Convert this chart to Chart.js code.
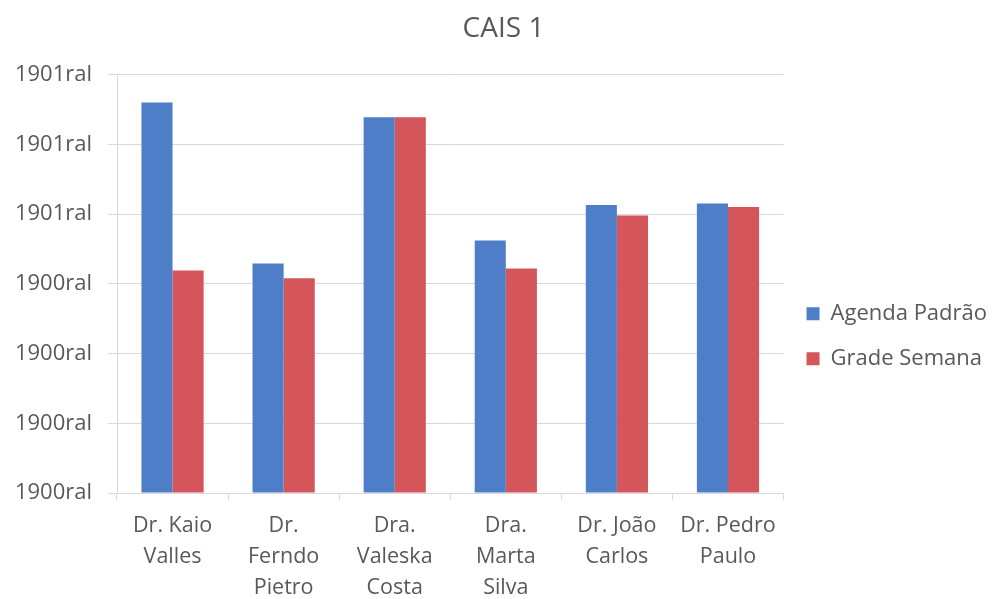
<!DOCTYPE html>
<html>
<head>
<meta charset="utf-8">
<script src="https://cdn.jsdelivr.net/npm/chart.js@4.4.1/dist/chart.umd.min.js"></script>
<style>
    html, body { margin: 0; padding: 0; background: #ffffff; }
    #wrap { width: 997px; height: 599px; }
</style>
</head>
<body>
<div id="wrap"><canvas id="caisChart"></canvas></div>
<script>
// Doctors on the x axis (one line per array entry)
const doctors = [
    ['Dr. Kaio', 'Valles'],
    ['Dr.', 'Ferndo', 'Pietro'],
    ['Dra.', 'Valeska', 'Costa'],
    ['Dra.', 'Marta', 'Silva'],
    ['Dr. João', 'Carlos'],
    ['Dr. Pedro', 'Paulo']
];

const agendaPadrao = [5.60, 3.29, 5.39, 3.62, 4.13, 4.15];
const gradeSemana = [3.19, 3.08, 5.39, 3.22, 3.98, 4.10];

// y tick texts, bottom to top
const yTickLabels = ['1900ral', '1900ral', '1900ral', '1900ral', '1901ral', '1901ral', '1901ral'];

const textColor = '#595959';
const gridColor = '#d9d9d9';
const fontFamily = '"Open Sans", sans-serif';

const ctx = document.getElementById('caisChart').getContext('2d');
new Chart(ctx, {
    type: 'bar',
    data: {
        labels: doctors,
        datasets: [{
            label: 'Agenda Padrão',
            data: agendaPadrao,
            backgroundColor: '#4f7ec9'
        }, {
            label: 'Grade Semana',
            data: gradeSemana,
            backgroundColor: '#d4555a'
        }]
    },
    options: {
        responsive: true,
        maintainAspectRatio: false,
        animation: false,
        layout: {
            padding: { left: 10, right: 0, top: 0, bottom: 0 }
        },
        datasets: {
            bar: {
                barPercentage: 1.0,
                categoryPercentage: 0.56
            }
        },
        plugins: {
            title: {
                display: true,
                text: 'CAIS 1',
                color: textColor,
                font: { family: fontFamily, size: 28, weight: 'normal' },
                padding: { top: 12, bottom: 29 }
            },
            legend: {
                position: 'right',
                // blank title pushes the legend entries down a little
                title: {
                    display: true,
                    text: ' ',
                    padding: { top: 59, bottom: 0 }
                },
                labels: {
                    color: textColor,
                    font: { family: fontFamily, size: 22 },
                    boxWidth: 13,
                    boxHeight: 13,
                    padding: 23
                }
            },
            tooltip: { enabled: false }
        },
        scales: {
            x: {
                offset: true,
                afterFit: (scale) => { scale.height = 106; },
                grid: {
                    offset: true,
                    drawOnChartArea: false,
                    drawTicks: true,
                    tickLength: 7,
                    color: gridColor
                },
                border: { color: gridColor },
                ticks: {
                    color: textColor,
                    font: { family: fontFamily, size: 21.5, lineHeight: 1.45 },
                    padding: 10,
                    maxRotation: 0,
                    autoSkip: false
                }
            },
            y: {
                min: 0,
                max: 6,
                afterFit: (scale) => { scale.width = 107; },
                grid: {
                    color: gridColor,
                    tickLength: 9
                },
                border: { color: gridColor },
                ticks: {
                    stepSize: 1,
                    color: textColor,
                    font: { family: fontFamily, size: 22 },
                    padding: 16,
                    callback: (value, index) => yTickLabels[index]
                }
            }
        }
    }
});
</script>
</body>
</html>
